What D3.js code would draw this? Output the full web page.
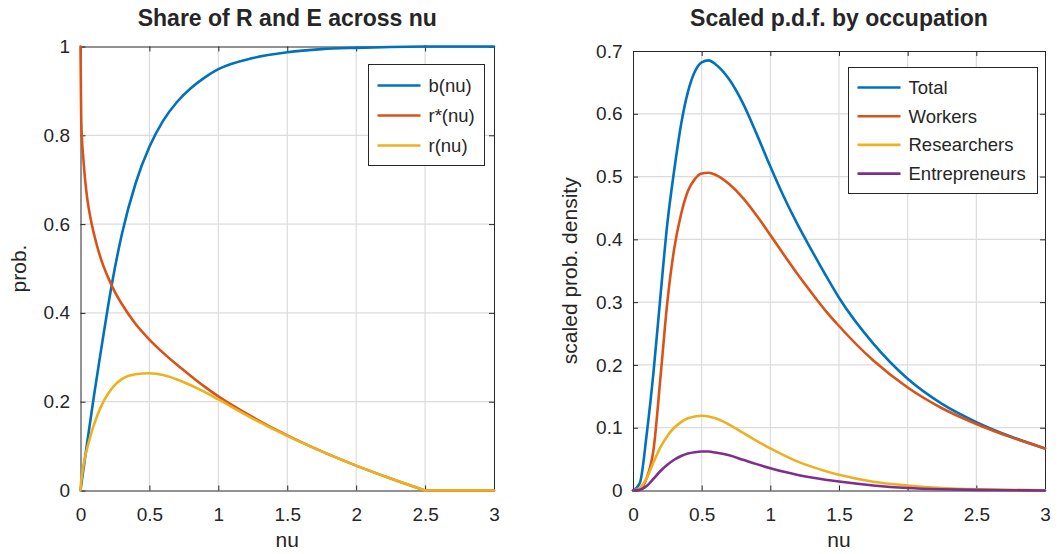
<!DOCTYPE html>
<html>
<head>
<meta charset="utf-8">
<script src="https://cdn.jsdelivr.net/npm/d3@7"></script>
<style>
  body { margin: 0; background: #fff; }
  svg { display: block; font-family: "Liberation Sans", Arial, Helvetica, sans-serif; }
  text { fill: #262626; }
</style>
</head>
<body>
<svg id="chart" width="1062" height="554"></svg>
<script>
// Left panel: share of R and E across nu
const nuLeft = [0, 0.005, 0.01, 0.02, 0.035, 0.05, 0.075, 0.1, 0.15, 0.2, 0.25, 0.3, 0.4, 0.5,
    0.6, 0.7, 0.8, 0.9, 1.0, 1.25, 1.5, 1.75, 2.0, 2.25, 2.5, 2.75, 3.0];
const bShare = [0, 0.011, 0.023, 0.045, 0.078, 0.111, 0.165, 0.218, 0.318, 0.415, 0.502, 0.577, 0.692, 0.774,
    0.833, 0.875, 0.906, 0.93, 0.949, 0.974, 0.987, 0.994, 0.997, 0.999, 1.0, 1.0, 1.0];
const rStar = [1.0, 0.84, 0.795, 0.75, 0.695, 0.655, 0.61, 0.575, 0.52, 0.48, 0.447, 0.42, 0.375, 0.34,
    0.31, 0.283, 0.258, 0.234, 0.212, 0.165, 0.124, 0.088, 0.056, 0.027, 0, 0, 0];
const rShare = [0, 0.02, 0.032, 0.054, 0.078, 0.097, 0.126, 0.15, 0.19, 0.218, 0.238, 0.251, 0.262, 0.264,
    0.26, 0.25, 0.237, 0.222, 0.205, 0.162, 0.123, 0.088, 0.056, 0.027, 0, 0, 0];
const leftNames = ['b(nu)', 'r*(nu)', 'r(nu)'];

// Right panel: scaled p.d.f. by occupation
const nuRight = [0, 0.05, 0.1, 0.15, 0.2, 0.25, 0.3, 0.35, 0.4, 0.45, 0.5, 0.55, 0.6, 0.7, 0.8, 0.9,
    1.0, 1.1, 1.2, 1.3, 1.4, 1.5, 1.75, 2.0, 2.25, 2.5, 2.75, 3.0];
const pdfTotal = [0, 0.012, 0.09, 0.19, 0.31, 0.425, 0.51, 0.583, 0.635, 0.667, 0.682, 0.685, 0.679, 0.655,
    0.617, 0.568, 0.516, 0.467, 0.423, 0.383, 0.344, 0.307, 0.234, 0.178, 0.138, 0.109, 0.086, 0.067];
const pdfWorkers = [0, 0.002, 0.02, 0.066, 0.18, 0.3, 0.385, 0.44, 0.477, 0.496, 0.505, 0.506, 0.503, 0.488,
    0.466, 0.438, 0.407, 0.375, 0.344, 0.315, 0.287, 0.262, 0.207, 0.164, 0.131, 0.106, 0.085, 0.067];
const pdfResearchers = [0, 0.004, 0.02, 0.045, 0.069, 0.087, 0.1, 0.109, 0.115, 0.118, 0.119, 0.118, 0.115, 0.105,
    0.092, 0.079, 0.067, 0.056, 0.046, 0.038, 0.031, 0.025, 0.014, 0.008, 0.004, 0.002, 0.001, 0.0005];
const pdfEntrepreneurs = [0, 0.001, 0.007, 0.019, 0.031, 0.041, 0.049, 0.055, 0.059, 0.061, 0.062, 0.062, 0.0605, 0.056,
    0.049, 0.042, 0.0355, 0.0297, 0.0248, 0.0207, 0.0172, 0.0142, 0.008, 0.004, 0.002, 0.001, 0.0005, 0];
const rightNames = ['Total', 'Workers', 'Researchers', 'Entrepreneurs'];

const xTicks = [0, 0.5, 1, 1.5, 2, 2.5, 3];
const leftYTicks = [0, 0.2, 0.4, 0.6, 0.8, 1];
const rightYTicks = [0, 0.1, 0.2, 0.3, 0.4, 0.5, 0.6, 0.7];

const colors = ['#0072BD', '#D95319', '#EDB120', '#7E2F8E'];
const axisColor = '#262626';
const gridColor = '#dcdcdc';

const svg = d3.select('#chart');

function drawPanel(cfg) {
    const x = d3.scaleLinear().domain([0, 3]).range([cfg.x0, cfg.x1]);
    const y = d3.scaleLinear().domain(cfg.yDomain).range([cfg.y1, cfg.y0]);
    const g = svg.append('g');
    const fmt = d => String(+d.toFixed(2));

    // grid
    g.append('g').selectAll('line').data(xTicks.slice(1, -1)).join('line')
        .attr('x1', d => x(d)).attr('x2', d => x(d))
        .attr('y1', cfg.y0).attr('y2', cfg.y1)
        .attr('stroke', gridColor).attr('stroke-width', 1.2);
    g.append('g').selectAll('line').data(cfg.yTicks.slice(1, -1)).join('line')
        .attr('y1', d => y(d)).attr('y2', d => y(d))
        .attr('x1', cfg.x0).attr('x2', cfg.x1)
        .attr('stroke', gridColor).attr('stroke-width', 1.2);

    // axes, ticks pointing inward, box on
    const bottom = g.append('g').attr('transform', `translate(0,${ cfg.y1 })`)
        .call(d3.axisBottom(x).tickValues(xTicks).tickFormat(fmt).tickSizeInner(-5).tickSizeOuter(0).tickPadding(17));
    const top = g.append('g').attr('transform', `translate(0,${ cfg.y0 })`)
        .call(d3.axisTop(x).tickValues(xTicks).tickFormat('').tickSizeInner(-5).tickSizeOuter(0));
    const left = g.append('g').attr('transform', `translate(${ cfg.x0 },0)`)
        .call(d3.axisLeft(y).tickValues(cfg.yTicks).tickFormat(fmt).tickSizeInner(-5).tickSizeOuter(0).tickPadding(10.5));
    const right = g.append('g').attr('transform', `translate(${ cfg.x1 },0)`)
        .call(d3.axisRight(y).tickValues(cfg.yTicks).tickFormat('').tickSizeInner(-5).tickSizeOuter(0));
    for (const a of [bottom, top, left, right]) {
        a.selectAll('path, line').attr('stroke', axisColor).attr('stroke-width', 1);
        a.selectAll('text').attr('fill', axisColor).style('font-size', '19px')
            .style('font-family', '"Liberation Sans", Arial, sans-serif');
    }
    bottom.selectAll('text').attr('dy', '0.71em');

    // titles and labels
    g.append('text')
        .attr('x', (cfg.x0 + cfg.x1) / 2).attr('y', 26)
        .attr('text-anchor', 'middle')
        .style('font-size', '23px').style('font-weight', 'bold')
        .text(cfg.title);
    g.append('text')
        .attr('x', (cfg.x0 + cfg.x1) / 2).attr('y', 547)
        .attr('text-anchor', 'middle')
        .style('font-size', '21px')
        .text('nu');
    g.append('text')
        .attr('transform', `translate(${ cfg.yLabelX },${ (cfg.y0 + cfg.y1) / 2 }) rotate(-90)`)
        .attr('text-anchor', 'middle')
        .style('font-size', '21px')
        .text(cfg.yLabel);

    // curves; split at the kink so the monotone spline keeps the corner
    const line = d3.line()
        .x(d => x(d[0]))
        .y(d => y(d[1]))
        .curve(d3.curveMonotoneX);
    cfg.series.forEach((s, i) => {
        const pts = cfg.nu.map((n, j) => [n, s[j]]);
        const parts = cfg.breakAt === undefined
            ? [pts]
            : [pts.filter(p => p[0] <= cfg.breakAt), pts.filter(p => p[0] >= cfg.breakAt)];
        for (const part of parts) {
            g.append('path')
                .datum(part)
                .attr('fill', 'none')
                .attr('stroke', colors[i])
                .attr('stroke-width', 2.6)
                .attr('stroke-linejoin', 'round')
                .attr('stroke-linecap', 'round')
                .attr('d', line);
        }
    });

    // legend
    const lg = g.append('g');
    lg.append('rect')
        .attr('x', cfg.legend.x).attr('y', cfg.legend.y)
        .attr('width', cfg.legend.w).attr('height', cfg.legend.h)
        .attr('fill', '#fff').attr('stroke', axisColor).attr('stroke-width', 1);
    cfg.names.forEach((name, i) => {
        const ly = cfg.legend.y + cfg.legend.first + i * cfg.legend.step;
        lg.append('line')
            .attr('x1', cfg.legend.x + 9).attr('x2', cfg.legend.x + 52)
            .attr('y1', ly).attr('y2', ly)
            .attr('stroke', colors[i]).attr('stroke-width', 2.6);
        lg.append('text')
            .attr('x', cfg.legend.x + 60).attr('y', ly)
            .attr('dy', '0.35em')
            .style('font-size', '18.5px')
            .text(name);
    });
}

drawPanel({
    x0: 80.5, x1: 494, y0: 46.5, y1: 490.5,
    yDomain: [0, 1], yTicks: leftYTicks,
    title: 'Share of R and E across nu',
    yLabel: 'prob.', yLabelX: 26, breakAt: 2.5,
    nu: nuLeft, series: [bShare, rStar, rShare], names: leftNames,
    legend: { x: 368.5, y: 64.5, w: 116, h: 101, first: 21, step: 30 }
});

drawPanel({
    x0: 633, x1: 1045, y0: 51, y1: 490.5,
    yDomain: [0, 0.7], yTicks: rightYTicks,
    title: 'Scaled p.d.f. by occupation',
    yLabel: 'scaled prob. density', yLabelX: 577,
    nu: nuRight, series: [pdfTotal, pdfWorkers, pdfResearchers, pdfEntrepreneurs], names: rightNames,
    legend: { x: 848.5, y: 67.5, w: 189, h: 126, first: 20, step: 28.7 }
});
</script>
</body>
</html>
